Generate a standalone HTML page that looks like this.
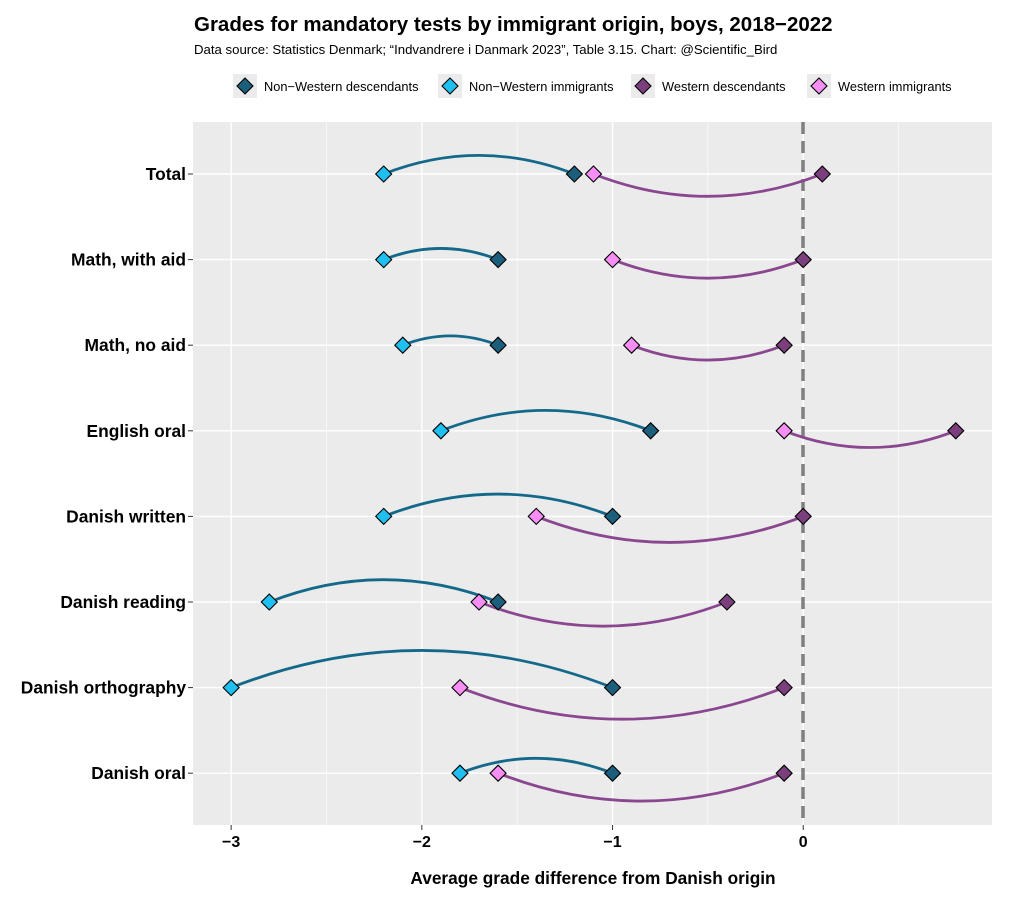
<!DOCTYPE html>
<html><head><meta charset="utf-8">
<style>
body{margin:0;background:#fff;}
svg{font-family:"Liberation Sans",Arial,sans-serif;display:block;}
</style></head>
<body>
<svg id="chart" width="1013" height="906" xmlns="http://www.w3.org/2000/svg">
<text x="194" y="31" font-size="20.5" font-weight="bold" fill="#000">Grades for mandatory tests by immigrant origin, boys, 2018−2022</text>
<text x="194" y="54" font-size="13.2" fill="#000">Data source: Statistics Denmark; “Indvandrere i Danmark 2023”, Table 3.15. Chart: @Scientific_Bird</text>
<g id="legend"></g>
<rect x="193" y="122" width="799" height="703" fill="#ebebeb"/>
<g id="grid"></g>
<line x1="803" y1="122" x2="803" y2="825" stroke="#7f7f7f" stroke-width="3.5" stroke-dasharray="12,7"/>
<g id="curves"></g>
<g id="points"></g>
<g id="axes"></g>
<text x="593" y="884" font-size="17.3" font-weight="bold" text-anchor="middle" fill="#000">Average grade difference from Danish origin</text>
</svg>
<script>
const categories = ["Total","Math, with aid","Math, no aid","English oral","Danish written","Danish reading","Danish orthography","Danish oral"];
const nonWesternImmigrants = [-2.2,-2.2,-2.1,-1.9,-2.2,-2.8,-3.0,-1.8];
const nonWesternDescendants = [-1.2,-1.6,-1.6,-0.8,-1.0,-1.6,-1.0,-1.0];
const westernImmigrants = [-1.1,-1.0,-0.9,-0.1,-1.4,-1.7,-1.8,-1.6];
const westernDescendants = [0.1,0.0,-0.1,0.8,0.0,-0.4,-0.1,-0.1];
const xTicks = [-3,-2,-1,0];
const xTickLabels = ["−3","−2","−1","0"];
const legendLabels = ["Non−Western descendants","Non−Western immigrants","Western descendants","Western immigrants"];

const NS="http://www.w3.org/2000/svg";
const X0=193,X1=992,XMIN=-3.2,XMAX=0.99;
function xs(v){return X0+(v-XMIN)/(XMAX-XMIN)*(X1-X0);}
function ys(i){return 174+i*85.6;}
function mk(tag,attrs,parent){const e=document.createElementNS(NS,tag);for(const k in attrs)e.setAttribute(k,attrs[k]);parent.appendChild(e);return e;}
const grid=document.getElementById('grid'),curves=document.getElementById('curves'),points=document.getElementById('points'),axes=document.getElementById('axes'),legend=document.getElementById('legend');
const colNWD="#1c5f7c",colNWI="#1fbff0",colWD="#7b3f7d",colWI="#f78ef5";
for(let v=-3;v<=0.75;v+=0.5){
  const major=Number.isInteger(v);
  const l=mk('line',{x1:xs(v),x2:xs(v),y1:122,y2:825,stroke:"#fff","stroke-width":major?1.4:0.6},grid);
  
  
}
categories.forEach((c,i)=>{
  const l=mk('line',{x1:X0,x2:X1,y1:ys(i),y2:ys(i),stroke:"#fff","stroke-width":1.4},grid);
  
  
  const t=mk('text',{x:186,y:ys(i)+6,"font-size":17.4,"font-weight":"bold","text-anchor":"end",fill:"#000"},axes);
  t.textContent=c;
  
  
  const tk=mk('line',{x1:188,x2:193,y1:ys(i),y2:ys(i),stroke:"#333","stroke-width":1},axes);
  
  
});
xTicks.forEach((v,i)=>{
  const tk=mk('line',{x1:xs(v),x2:xs(v),y1:825,y2:830,stroke:"#333","stroke-width":1},axes);
  
  
  const t=mk('text',{x:xs(v),y:847,"font-size":16,"font-weight":"bold","text-anchor":"middle",fill:"#000"},axes);
  t.textContent=xTickLabels[i];
  
  
});
function curve(a,b,y,up,color,name){
  const x1=xs(a),x2=xs(b),len=Math.abs(x2-x1);
  const cx=(x1+x2)/2,cy=y+(up?-1:1)*0.195*len;
  const p=mk('path',{d:`M${x1},${y} Q${cx},${cy} ${x2},${y}`,fill:"none",stroke:color,"stroke-width":2.8},curves);
  
  
}
function diamond(x,y,color,parent,name){
  const s=8;
  const p=mk('polygon',{points:`${x},${y-s} ${x+s},${y} ${x},${y+s} ${x-s},${y}`,fill:color,stroke:"#000","stroke-width":1.1},parent);
  
  
}
categories.forEach((c,i)=>{
  const y=ys(i);
  curve(nonWesternImmigrants[i],nonWesternDescendants[i],y,true,"#14698a",'non-western-curve');
  curve(westernImmigrants[i],westernDescendants[i],y,false,"#8a4790",'western-curve');
});
categories.forEach((c,i)=>{
  const y=ys(i);
  diamond(xs(nonWesternImmigrants[i]),y,colNWI,points,'point-non-western-immigrants');
  diamond(xs(nonWesternDescendants[i]),y,colNWD,points,'point-non-western-descendants');
  diamond(xs(westernImmigrants[i]),y,colWI,points,'point-western-immigrants');
  diamond(xs(westernDescendants[i]),y,colWD,points,'point-western-descendants');
});
const legX=[233,438,631,807],legCol=[colNWD,colNWI,colWD,colWI];
legendLabels.forEach((lab,i)=>{
  const g=mk('g',{},legend);
  
  
  mk('rect',{x:legX[i],y:74,width:24,height:24,fill:"#ebebeb"},g);
  diamond(legX[i]+12,86,legCol[i],g,'legend-key');
  const t=mk('text',{x:legX[i]+31,y:91,"font-size":12.8,fill:"#000"},g);
  t.textContent=lab;
  
  
});
</script>
</body></html>
